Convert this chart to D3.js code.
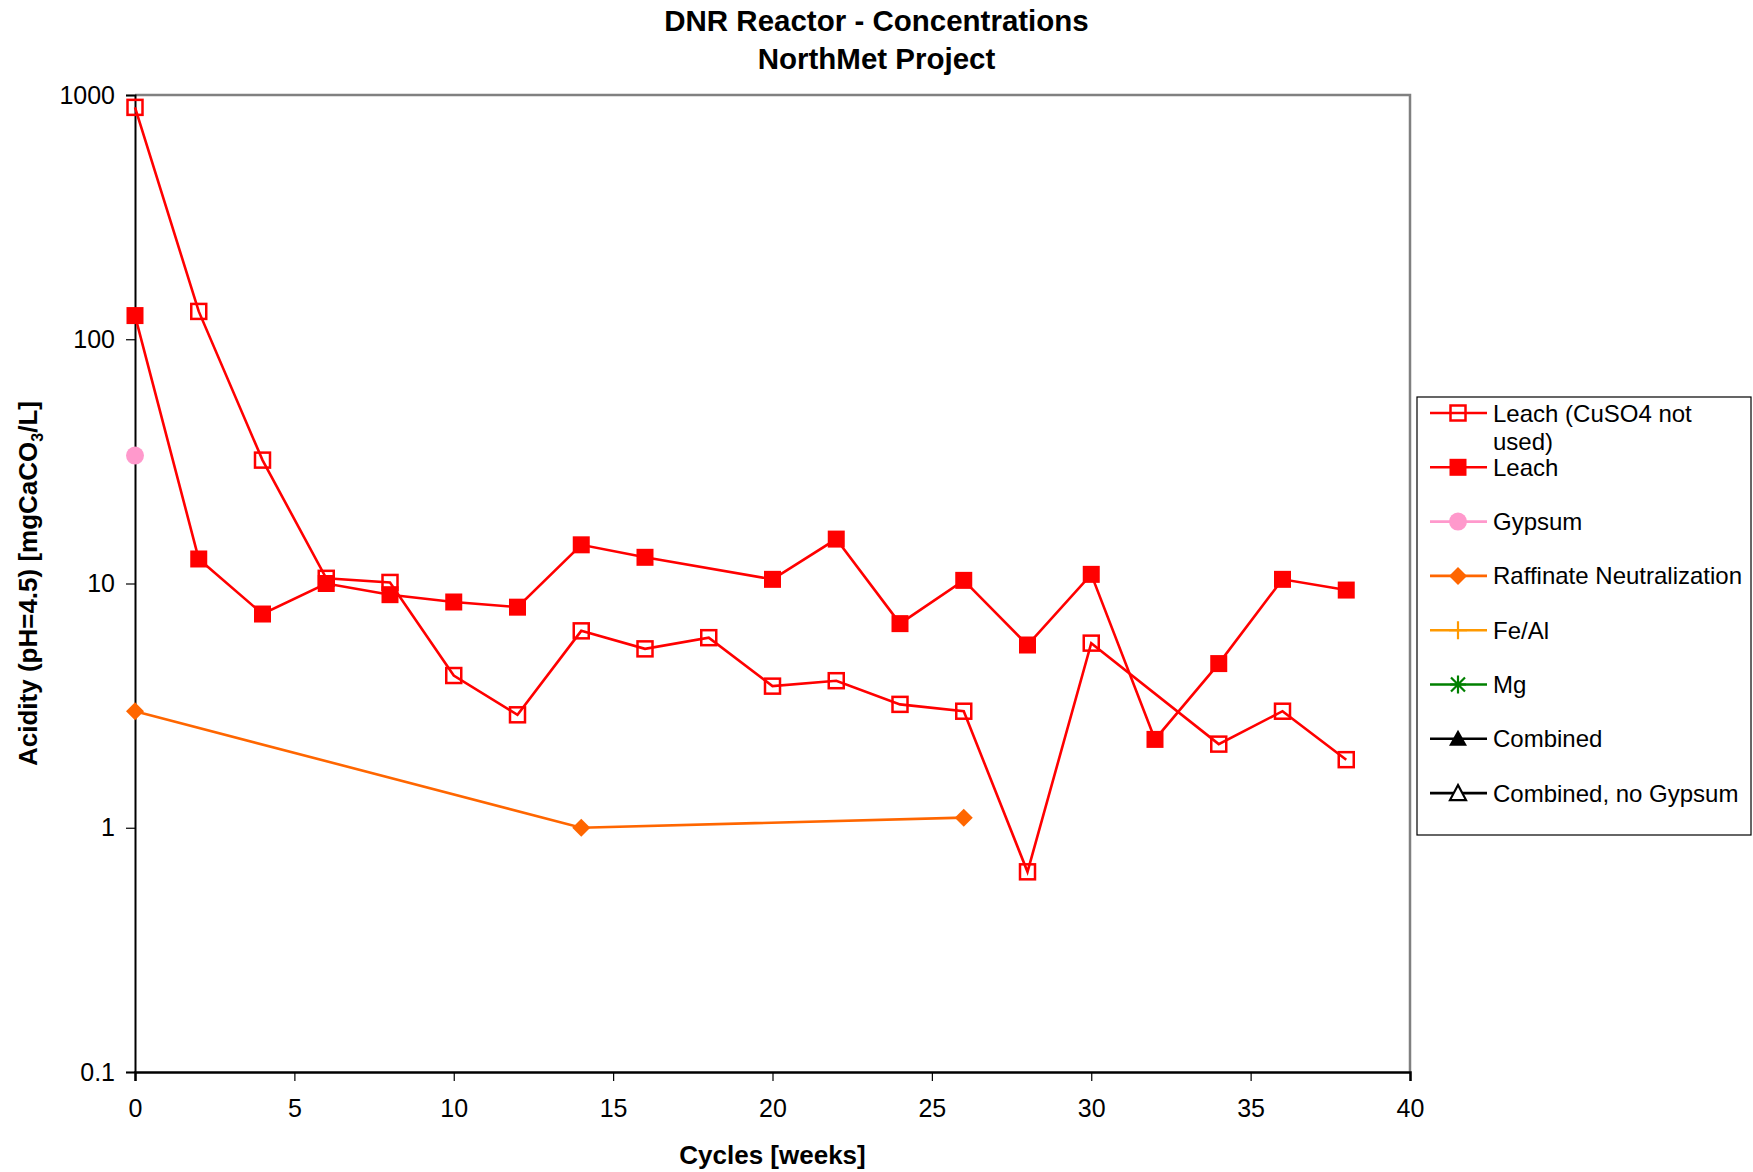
<!DOCTYPE html>
<html><head><meta charset="utf-8">
<script src="https://cdn.jsdelivr.net/npm/d3@7"></script>
<style>
body{margin:0;background:#fff}
svg text{font-family:Arial,"Liberation Sans",Helvetica,sans-serif;fill:#000}
</style>
</head><body>
<svg id="chart" width="1753" height="1172"></svg>
<script>
// ---- data ----
const titleLines = ["DNR Reactor - Concentrations", "NorthMet Project"];
const xTicks = [0, 5, 10, 15, 20, 25, 30, 35, 40];
const yTicks = [0.1, 1, 10, 100, 1000];
const yTickLabels = ["0.1", "1", "10", "100", "1000"];

const leachNoCuWeeks  = [0, 2, 4, 6, 8, 10, 12, 14, 16, 18, 20, 22, 24, 26, 28, 30, 34, 36, 38];
const leachNoCuValues = [890, 130, 32, 10.5, 10.1, 4.2, 2.9, 6.4, 5.4, 6.0, 3.8, 4.0, 3.2, 3.0, 0.66, 5.7, 2.2, 3.0, 1.9];

const leachWeeks  = [0, 2, 4, 6, 8, 10, 12, 14, 16, 20, 22, 24, 26, 28, 30, 32, 34, 36, 38];
const leachValues = [125, 12.6, 7.5, 10, 9.0, 8.4, 8.0, 14.4, 12.8, 10.4, 15.2, 6.85, 10.3, 5.6, 10.9, 2.3, 4.7, 10.4, 9.4];

const gypsumWeeks  = [0];
const gypsumValues = [33.4];

const raffWeeks  = [0, 14, 26];
const raffValues = [3.0, 1.0, 1.1];

const feAlWeeks = [], feAlValues = [];
const mgWeeks = [], mgValues = [];
const combinedWeeks = [], combinedValues = [];
const combinedNoGypWeeks = [], combinedNoGypValues = [];

const seriesNames = ["Leach (CuSO4 not used)", "Leach", "Gypsum", "Raffinate Neutralization", "Fe/Al", "Mg", "Combined", "Combined, no Gypsum"];
const seriesColors = ["#FF0000", "#FF0000", "#FF99CC", "#FF6600", "#FF9900", "#008000", "#000000", "#000000"];
const seriesMarkers = ["squareOpen", "square", "circle", "diamond", "plus", "star", "triangle", "triangleOpen"];

// ---- build ----
const series = [
  [leachNoCuWeeks, leachNoCuValues], [leachWeeks, leachValues], [gypsumWeeks, gypsumValues],
  [raffWeeks, raffValues], [feAlWeeks, feAlValues], [mgWeeks, mgValues],
  [combinedWeeks, combinedValues], [combinedNoGypWeeks, combinedNoGypValues]
].map((s, i) => ({
  name: seriesNames[i], color: seriesColors[i], marker: seriesMarkers[i],
  pts: s[0].map((w, j) => ({x: w, y: s[1][j]}))
}));

const W = 1753, H = 1172;
const plot = {left: 135, right: 1410, top: 95, bottom: 1072};
const svg = d3.select("#chart");

const x = d3.scaleLinear().domain([0, 40]).range([plot.left, plot.right]);
const y = d3.scaleLog().domain([0.1, 1000]).range([plot.bottom, plot.top]);

// title
svg.append("text").attr("x", W/2).attr("y", 31).attr("text-anchor", "middle")
  .attr("font-size", 29.5).attr("font-weight", "bold").text(titleLines[0]);
svg.append("text").attr("x", W/2).attr("y", 69).attr("text-anchor", "middle")
  .attr("font-size", 29.5).attr("font-weight", "bold").text(titleLines[1]);

// plot frame (top & right gray)
svg.append("path")
  .attr("d", `M${plot.left},${plot.top}H${plot.right}V${plot.bottom}`)
  .attr("fill", "none").attr("stroke", "#808080").attr("stroke-width", 2.5);

// axes
const xAxis = d3.axisBottom(x).tickValues(xTicks).tickSize(9).tickPadding(18).tickFormat(d3.format("d"));
const gx = svg.append("g").attr("transform", `translate(0,${plot.bottom})`).call(xAxis);
gx.select(".domain").attr("stroke", "#000").attr("stroke-width", 2.5);
gx.selectAll(".tick line").attr("stroke", "#000").attr("stroke-width", 1.2);
gx.selectAll(".tick text").attr("font-size", 25).attr("font-family", "Arial, 'Liberation Sans', sans-serif").attr("fill", "#000");

const yAxis = d3.axisLeft(y).tickValues(yTicks).tickSize(9).tickPadding(11)
  .tickFormat((d, i) => yTickLabels[i]);
const gy = svg.append("g").attr("transform", `translate(${plot.left},0)`).call(yAxis);
gy.select(".domain").attr("stroke", "#000").attr("stroke-width", 2);
gy.selectAll(".tick line").attr("stroke", "#000").attr("stroke-width", 1.2);
gy.selectAll(".tick text").attr("font-size", 25).attr("font-family", "Arial, 'Liberation Sans', sans-serif").attr("fill", "#000");

// axis titles
svg.append("text").attr("x", (plot.left + plot.right)/2).attr("y", 1164).attr("text-anchor", "middle")
  .attr("font-size", 26).attr("font-weight", "bold").text("Cycles [weeks]");
const yl = svg.append("text").attr("transform", `translate(37,${(plot.top + plot.bottom)/2}) rotate(-90)`)
  .attr("text-anchor", "middle").attr("font-size", 26).attr("font-weight", "bold");
yl.append("tspan").text("Acidity (pH=4.5) [mgCaCO");
yl.append("tspan").attr("font-size", 16).attr("dy", 6).text("3");
yl.append("tspan").attr("dy", -6).text("/L]");

// markers
function drawMarker(g, type, color, cx, cy, scale) {
  const s = scale || 1;
  switch (type) {
    case "squareOpen":
      g.append("rect").attr("x", cx - 7.5*s).attr("y", cy - 7.5*s).attr("width", 15*s).attr("height", 15*s)
        .attr("fill", "none").attr("stroke", color).attr("stroke-width", 2.5); break;
    case "square":
      g.append("rect").attr("x", cx - 8.5*s).attr("y", cy - 8.5*s).attr("width", 17*s).attr("height", 17*s)
        .attr("fill", color); break;
    case "circle":
      g.append("circle").attr("cx", cx).attr("cy", cy).attr("r", 9*s).attr("fill", color); break;
    case "diamond":
      g.append("path").attr("d", `M${cx},${cy-9*s}L${cx+9*s},${cy}L${cx},${cy+9*s}L${cx-9*s},${cy}Z`).attr("fill", color); break;
    case "plus":
      g.append("path").attr("d", `M${cx-9*s},${cy}H${cx+9*s}M${cx},${cy-9*s}V${cy+9*s}`).attr("stroke", color).attr("stroke-width", 2.2); break;
    case "star":
      g.append("path").attr("d", `M${cx-8*s},${cy}H${cx+8*s}M${cx},${cy-9*s}V${cy+9*s}M${cx-7*s},${cy-7*s}L${cx+7*s},${cy+7*s}M${cx-7*s},${cy+7*s}L${cx+7*s},${cy-7*s}`)
        .attr("stroke", color).attr("stroke-width", 2.2); break;
    case "triangle":
      g.append("path").attr("d", `M${cx},${cy-9*s}L${cx+9*s},${cy+7*s}L${cx-9*s},${cy+7*s}Z`).attr("fill", color); break;
    case "triangleOpen":
      g.append("path").attr("d", `M${cx},${cy-8*s}L${cx+8*s},${cy+7*s}L${cx-8*s},${cy+7*s}Z`)
        .attr("fill", "#fff").attr("stroke", color).attr("stroke-width", 2.2); break;
  }
}

const line = d3.line().x(d => x(d.x)).y(d => y(d.y));
const gSeries = svg.append("g");
series.forEach(s => {
  if (s.pts.length > 1) {
    gSeries.append("path").datum(s.pts).attr("d", line)
      .attr("fill", "none").attr("stroke", s.color).attr("stroke-width", 2.6);
  }
});
series.forEach(s => {
  s.pts.forEach(p => drawMarker(gSeries, s.marker, s.color, x(p.x), y(p.y)));
});

// legend
const lg = svg.append("g");
lg.append("rect").attr("x", 1417).attr("y", 397).attr("width", 334).attr("height", 438)
  .attr("fill", "#fff").attr("stroke", "#000").attr("stroke-width", 1.2);
const rowY0 = 413, rowStep = 54.3;
series.forEach((s, i) => {
  const ry = rowY0 + i * rowStep;
  lg.append("line").attr("x1", 1430).attr("x2", 1487).attr("y1", ry).attr("y2", ry)
    .attr("stroke", s.color).attr("stroke-width", 2.6);
  drawMarker(lg, s.marker, s.color, 1458, ry, 1);
  const t = lg.append("text").attr("x", 1493).attr("y", ry + 8.5).attr("font-size", 24);
  if (i === 0) {
    t.append("tspan").attr("x", 1493).text("Leach (CuSO4 not");
    t.append("tspan").attr("x", 1493).attr("dy", 28.5).text("used)");
  } else {
    t.text(s.name);
  }
});
</script>
</body></html>
